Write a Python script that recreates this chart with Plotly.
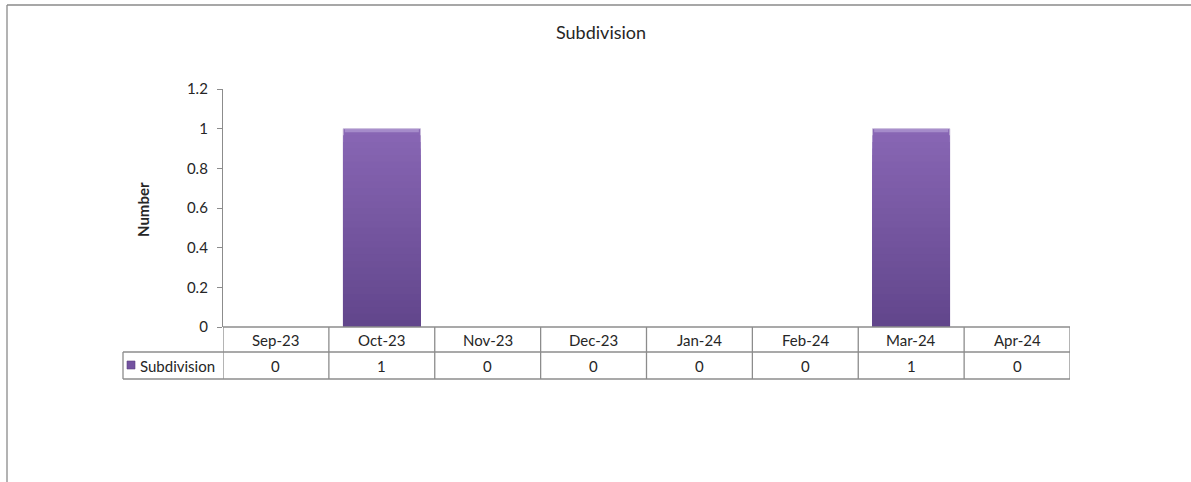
import plotly.graph_objects as go

categories = ["Sep-23", "Oct-23", "Nov-23", "Dec-23", "Jan-24", "Feb-24", "Mar-24", "Apr-24"]
values = [0, 1, 0, 0, 0, 0, 1, 0]
series_name = "Subdivision"
y_ticks = [0, 0.2, 0.4, 0.6, 0.8, 1.0, 1.2]
y_tick_labels = ["0", "0.2", "0.4", "0.6", "0.8", "1", "1.2"]

W, H = 1191, 482
L, R, T, B = 223, 121, 89, 155
PW, PH = W - L - R, H - T - B

FONT = "Lato"
TXT = "#262626"
GRID = "#8c8c8c"

top_rgb = (0x88, 0x66, 0xB4)
bot_rgb = (0x62, 0x46, 0x8C)


def mix(a, b, t):
    return "rgb(%d,%d,%d)" % tuple(round(a[i] + (b[i] - a[i]) * t) for i in range(3))


fig = go.Figure()
N = 30
for k in range(N):
    frac = 1 - k / N
    fig.add_trace(go.Bar(
        x=categories,
        y=[v * frac for v in values],
        width=0.73,
        marker=dict(color=mix(top_rgb, bot_rgb, k / (N - 1)),
                    line=dict(width=[0.8 if (k == 0 and v) else 0 for v in values], color="#c9bedb")),
        showlegend=False,
        hoverinfo="skip",
    ))

# bevel highlight at top of bars
fig.add_trace(go.Bar(
    x=categories,
    y=[v * 0.018 for v in values],
    base=[v * 0.982 for v in values],
    width=0.70,
    marker=dict(color="rgba(190,170,220,0.55)", line=dict(width=0)),
    showlegend=False,
    hoverinfo="skip",
))

shapes = []
annotations = []


def py(p):
    return (H - B - p) / PH


def px(p):
    return (p - L) / PW


row1 = py(352)
row2 = py(379)
n = len(categories)
line = dict(color=GRID, width=1.3)

# table horizontal lines
shapes.append(dict(type="line", xref="x", yref="paper", x0=-0.5, x1=n - 0.5, y0=0, y1=0, line=line))
shapes.append(dict(type="line", xref="x", yref="paper", x0=-0.5, x1=n - 0.5, y0=row1, y1=row1, line=line))
shapes.append(dict(type="line", xref="x", yref="paper", x0=-0.5, x1=n - 0.5, y0=row2, y1=row2, line=line))
shapes.append(dict(type="line", xref="paper", yref="paper", x0=px(123), x1=0, y0=row1, y1=row1, line=line))
shapes.append(dict(type="line", xref="paper", yref="paper", x0=px(123), x1=0, y0=row2, y1=row2, line=line))
shapes.append(dict(type="line", xref="paper", yref="paper", x0=px(123), x1=px(123), y0=row1, y1=row2, line=line))
# table vertical lines
for i in range(n + 1):
    shapes.append(dict(type="line", xref="x", yref="paper", x0=i - 0.5, x1=i - 0.5, y0=0, y1=row2, line=line))

cell_font = dict(family=FONT, size=15, color=TXT)
for i, (c, v) in enumerate(zip(categories, values)):
    annotations.append(dict(x=c, xref="x", yref="paper", y=(0 + row1) / 2, text=c, showarrow=False,
                            xanchor="center", yanchor="middle", font=cell_font))
    annotations.append(dict(x=c, xref="x", yref="paper", y=(row1 + row2) / 2, text=str(v), showarrow=False,
                            xanchor="center", yanchor="middle", font=cell_font))

# legend key
shapes.append(dict(type="rect", xref="paper", yref="paper", x0=px(127), x1=px(135), y0=py(369), y1=py(361),
                   fillcolor="#7352A0", line=dict(color="#5a3f82", width=0.6)))
annotations.append(dict(x=px(138), xref="paper", yref="paper", y=(row1 + row2) / 2, text=series_name,
                        xanchor="left", yanchor="middle", showarrow=False, font=cell_font))

# y axis title
annotations.append(dict(x=px(143), xref="paper", yref="paper", y=py(210), text="<b>Number</b>", textangle=-90,
                        xanchor="center", yanchor="middle",
                        showarrow=False, font=dict(family=FONT, size=15, color=TXT)))

# chart title
annotations.append(dict(x=px(601), xref="paper", yref="paper", y=py(32), text=series_name,
                        xanchor="center", yanchor="middle",
                        showarrow=False, font=dict(family=FONT, size=18, color=TXT)))

# outer chart border (left and top)
border = dict(color="#8a8a8a", width=1.3)
shapes.append(dict(type="line", xref="paper", yref="paper", x0=px(7), x1=px(7), y0=py(5), y1=py(490), line=border))
shapes.append(dict(type="line", xref="paper", yref="paper", x0=px(7), x1=px(1200), y0=py(5), y1=py(5), line=border))

fig.update_layout(
    width=W, height=H,
    margin=dict(l=L, r=R, t=T, b=B, pad=0),
    paper_bgcolor="white", plot_bgcolor="white",
    barmode="overlay",
    bargap=0.27,
    shapes=shapes,
    annotations=annotations,
    showlegend=False,
    xaxis=dict(type="category", range=[-0.5, n - 0.5], showticklabels=False, ticks="",
               showline=False, showgrid=False, zeroline=False, fixedrange=True),
    yaxis=dict(range=[0, 1.2], tickvals=y_ticks, ticktext=y_tick_labels, ticks="outside", ticklen=5,
               tickcolor=GRID, tickwidth=1.3, showline=True, linecolor=GRID, linewidth=1.3,
               showgrid=False, zeroline=False, tickfont=dict(family=FONT, size=15, color=TXT),
               fixedrange=True, ticklabelstandoff=6),
)

fig.write_html("out.html", config={"displayModeBar": False},
               post_script="document.body.style.margin='0';document.body.style.overflow='hidden';")
